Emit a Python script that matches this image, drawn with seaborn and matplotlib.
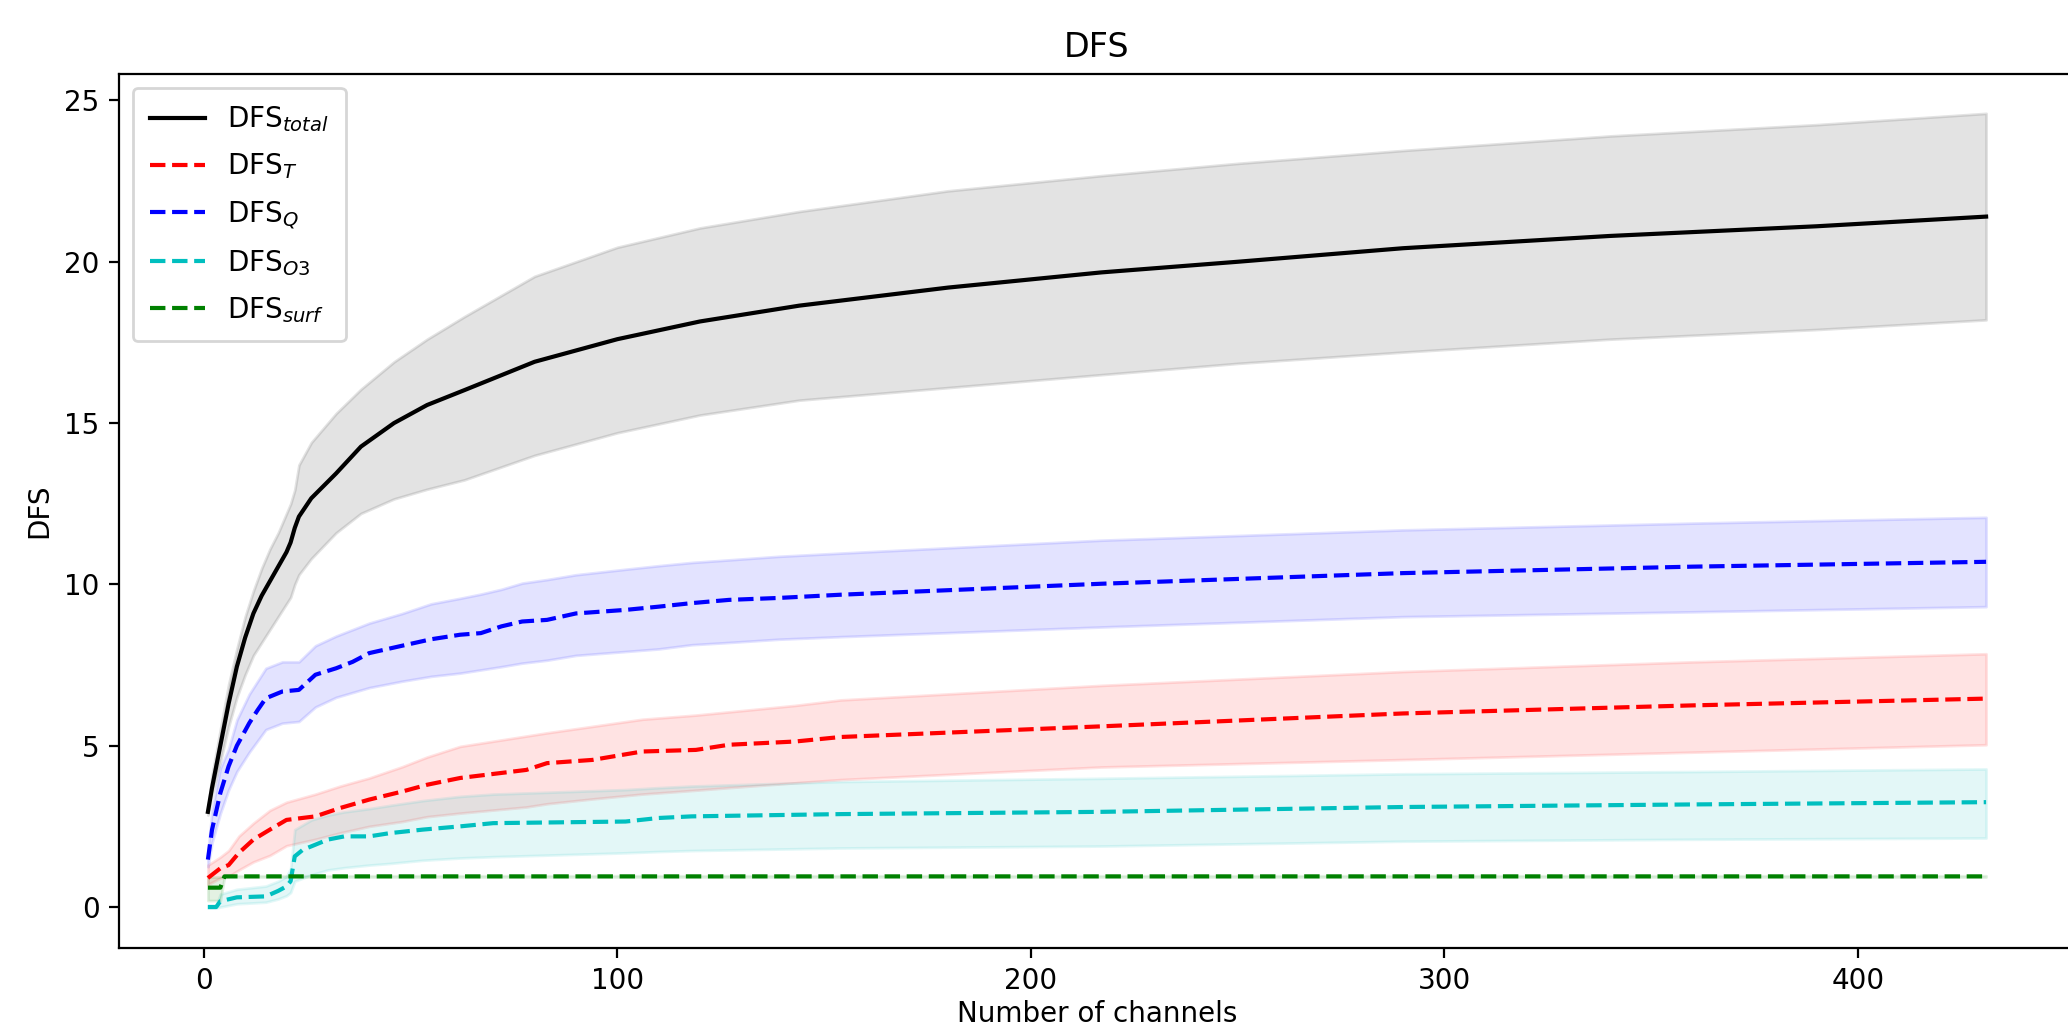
import numpy as np
import pandas as pd
import matplotlib
matplotlib.use("Agg")
import matplotlib.pyplot as plt
import seaborn as sns

# ---------------- data ----------------
total_x = [1, 2, 4, 6, 8, 10, 12, 14, 16, 18, 20, 21, 22, 23, 26, 32, 38, 46, 54, 63,
           80, 100, 120, 144, 180, 217, 250, 290, 340, 390, 431]
total_y = [2.95, 3.7, 5.0, 6.3, 7.45, 8.35, 9.1, 9.65, 10.1, 10.55, 11.0, 11.3, 11.75, 12.1, 12.67,
           13.44, 14.27, 15.0, 15.56, 16.02, 16.9, 17.6, 18.15, 18.64, 19.2, 19.67, 20.0, 20.42,
           20.8, 21.1, 21.4]
total_lo = [2.85, 3.5, 4.5, 5.6, 6.5, 7.2, 7.8, 8.2, 8.6, 9.0, 9.4, 9.6, 10.0, 10.3, 10.8,
            11.6, 12.2, 12.65, 12.95, 13.24, 14.0, 14.7, 15.25, 15.71, 16.1, 16.5, 16.85, 17.2,
            17.6, 17.9, 18.2]
total_hi = [3.05, 4.1, 5.5, 6.9, 8.0, 9.0, 9.8, 10.5, 11.1, 11.6, 12.2, 12.5, 12.93, 13.7, 14.4,
            15.3, 16.05, 16.9, 17.6, 18.3, 19.55, 20.45, 21.05, 21.56, 22.2, 22.67, 23.05, 23.45,
            23.9, 24.25, 24.6]

q_x = [1, 2, 4, 6, 8, 11, 13, 15, 19, 23, 27, 32, 36, 40, 48, 55, 62, 67, 72, 77, 83, 90,
       102, 110, 118, 127, 139, 154, 217, 290, 360, 431]
q_y = [1.47, 2.4, 3.53, 4.36, 5.0, 5.7, 6.1, 6.47, 6.68, 6.73, 7.2, 7.4, 7.6, 7.87, 8.1, 8.3,
       8.44, 8.49, 8.7, 8.85, 8.9, 9.1, 9.21, 9.31, 9.42, 9.52, 9.58, 9.68, 10.02, 10.35, 10.55, 10.7]
q_lo = [1.25, 2.0, 2.9, 3.63, 4.2, 4.8, 5.15, 5.5, 5.7, 5.75, 6.2, 6.5, 6.65, 6.8, 7.0, 7.15,
        7.25, 7.35, 7.45, 7.56, 7.65, 7.8, 7.92, 8.0, 8.13, 8.2, 8.3, 8.38, 8.68, 9.0, 9.15, 9.31]
q_hi = [1.7, 3.0, 4.3, 4.9, 5.8, 6.6, 7.0, 7.4, 7.6, 7.6, 8.1, 8.4, 8.6, 8.8, 9.1, 9.4,
        9.57, 9.7, 9.85, 10.04, 10.15, 10.3, 10.47, 10.58, 10.68, 10.76, 10.87, 10.97, 11.37,
        11.69, 11.9, 12.08]

t_x = [1, 4, 6, 8.5, 12, 16, 20, 27, 33, 40, 48, 54, 62, 78, 83, 94, 106, 119, 127, 143, 154,
       217, 290, 360, 431]
t_y = [0.9, 1.2, 1.3, 1.68, 2.09, 2.4, 2.7, 2.81, 3.07, 3.33, 3.58, 3.79, 4.0, 4.25, 4.46, 4.56,
       4.82, 4.87, 5.03, 5.13, 5.27, 5.6, 6.0, 6.25, 6.46]
t_lo = [0.7, 0.9, 0.95, 1.15, 1.4, 1.6, 1.9, 2.1, 2.3, 2.5, 2.65, 2.8, 2.91, 3.1, 3.2, 3.35,
        3.5, 3.62, 3.7, 3.85, 3.95, 4.34, 4.57, 4.8, 5.03]
t_hi = [1.3, 1.55, 1.75, 2.2, 2.6, 3.0, 3.25, 3.5, 3.75, 4.0, 4.35, 4.65, 4.98, 5.3, 5.4, 5.6,
        5.82, 5.95, 6.05, 6.25, 6.42, 6.87, 7.3, 7.6, 7.85]

o3_x = [1, 3, 4, 8, 15, 18, 20, 21, 22, 24, 26, 30, 34, 40, 45, 53, 62, 70, 102, 110, 118,
        154, 217, 290, 360, 431]
o3_y = [0.0, 0.0, 0.18, 0.3, 0.33, 0.5, 0.64, 0.8, 1.57, 1.78, 1.88, 2.09, 2.19, 2.19, 2.29,
        2.4, 2.5, 2.6, 2.65, 2.76, 2.81, 2.88, 2.95, 3.1, 3.18, 3.25]
o3_lo = [-0.03, -0.03, 0.0, 0.1, 0.15, 0.25, 0.35, 0.45, 0.8, 0.9, 1.0, 1.15, 1.22, 1.3, 1.35,
         1.45, 1.52, 1.56, 1.68, 1.72, 1.75, 1.83, 1.89, 2.04, 2.1, 2.14]
o3_hi = [0.05, 0.05, 0.4, 0.55, 0.65, 0.8, 0.95, 1.2, 2.4, 2.55, 2.7, 2.85, 2.95, 3.05, 3.15,
         3.3, 3.43, 3.5, 3.64, 3.7, 3.75, 3.89, 3.99, 4.13, 4.2, 4.28]

surf_x = [1, 4, 5, 431]
surf_y = [0.6, 0.6, 0.95, 0.95]
surf_lo = [0.2, 0.2, 0.93, 0.93]
surf_hi = [0.93, 0.93, 0.97, 0.97]

series = [
    (total_x, total_y, total_lo, total_hi, "k", "-", r"DFS$_{total}$"),
    (t_x, t_y, t_lo, t_hi, "r", "--", r"DFS$_T$"),
    (q_x, q_y, q_lo, q_hi, "b", "--", r"DFS$_Q$"),
    (o3_x, o3_y, o3_lo, o3_hi, "c", "--", r"DFS$_{O3}$"),
    (surf_x, surf_y, surf_lo, surf_hi, "g", "--", r"DFS$_{surf}$"),
]

# ---------------- figure ----------------
plt.rcParams["font.size"] = 10
fig = plt.figure(figsize=(10.34, 5.15), dpi=200)
ax = fig.add_axes([119 / 2068, 1 - 948 / 1030, (2075 - 119) / 2068, (948 - 74) / 1030])

for xs, ys, lo, hi, col, ls, lab in series:
    df = pd.DataFrame({"x": xs, "y": ys})
    sns.lineplot(data=df, x="x", y="y", color=col, linestyle=ls, linewidth=1.5,
                 label=lab, ax=ax, sort=True)
    ax.fill_between(xs, lo, hi, color=col, alpha=0.11)

ax.set_xlim(-20.5, 452.5)
ax.set_ylim(-1.27, 25.82)
ax.set_xticks([0, 100, 200, 300, 400])
ax.set_yticks([0, 5, 10, 15, 20, 25])
ax.set_xlabel("Number of channels", labelpad=1.5)
ax.set_ylabel("DFS")
ax.set_title("DFS")
ax.legend(loc="upper left", labelspacing=0.62, borderpad=0.6)

fig.savefig("out.png", dpi=200)
